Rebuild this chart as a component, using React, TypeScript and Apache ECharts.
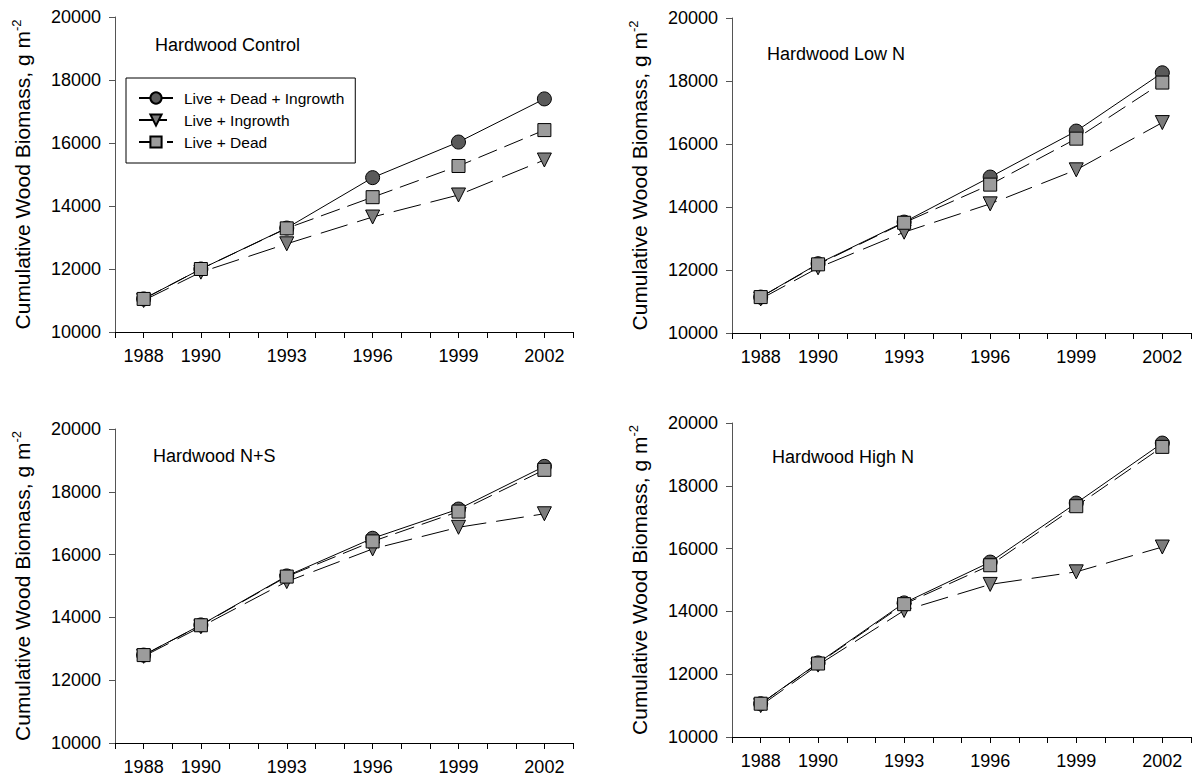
import React, { useEffect, useRef } from "react";
import * as echarts from "echarts";

const years = [1988, 1990, 1993, 1996, 1999, 2002];
const labelYears = [1988, 1990, 1993, 1996, 1999, 2002];
const seriesNames = ["Live + Dead + Ingrowth", "Live + Ingrowth", "Live + Dead"];
const panelTitles = ["Hardwood Control", "Hardwood Low N", "Hardwood N+S", "Hardwood High N"];

const controlLDI = [11050, 12000, 13300, 14900, 16030, 17400];
const controlLI = [11000, 11900, 12800, 13650, 14350, 15460];
const controlLD = [11050, 12000, 13290, 14280, 15270, 16410];

const lowNLDI = [11140, 12200, 13520, 14950, 16410, 18260];
const lowNLI = [11080, 12070, 13200, 14100, 15180, 16680];
const lowNLD = [11140, 12180, 13500, 14710, 16170, 17950];

const nsLDI = [12800, 13760, 15320, 16520, 17450, 18810];
const nsLI = [12760, 13700, 15140, 16180, 16870, 17300];
const nsLD = [12800, 13750, 15300, 16420, 17370, 18700];

const highNLDI = [11060, 12360, 14270, 15570, 17450, 19360];
const highNLI = [11000, 12290, 14030, 14860, 15260, 16050];
const highNLD = [11060, 12340, 14230, 15470, 17350, 19240];

const panelData = [
  [controlLDI, controlLI, controlLD],
  [lowNLDI, lowNLI, lowNLD],
  [nsLDI, nsLI, nsLD],
  [highNLDI, highNLI, highNLD],
];

const FONT = "Liberation Sans, Arial, sans-serif";

export default function App() {
  const ref = useRef<HTMLDivElement>(null);
  useEffect(() => {
    if (!ref.current) return;
    const chart = echarts.init(ref.current, null, { renderer: "svg" });

    const grids = [
      { left: 115, top: 17, width: 458, height: 315 },
      { left: 732, top: 18, width: 459, height: 315 },
      { left: 115, top: 429, width: 458, height: 314 },
      { left: 732, top: 423, width: 459, height: 314 },
    ];
    const titlePos = [
      [155, 47],
      [767, 56],
      [153, 458],
      [772, 459],
    ];

    const styles = [
      { symbol: "circle", size: 14, rotate: 0, color: "#5a5a5a", line: "solid" as any },
      { symbol: "triangle", size: 14, rotate: 180, color: "#7c7c7c", line: [28, 10] as any },
      { symbol: "rect", size: 13, rotate: 0, color: "#9c9c9c", line: [20, 8] as any },
    ];

    const xAxes = grids.map((_, i) => ({
      type: "value",
      gridIndex: i,
      min: 1987,
      max: 2003,
      interval: 1,
      splitLine: { show: false },
      axisLine: { onZero: false, lineStyle: { color: "#000", width: 1 } },
      axisTick: { show: true, length: 6, lineStyle: { color: "#000" } },
      axisLabel: {
        margin: 15,
        fontSize: 18,
        fontFamily: FONT,
        color: "#000",
        formatter: (v: number) => (labelYears.includes(v) ? String(v) : ""),
      },
    }));

    const yAxes = grids.map((_, i) => ({
      type: "value",
      gridIndex: i,
      min: 10000,
      max: 20000,
      interval: 2000,
      splitLine: { show: false },
      axisLine: { show: true, lineStyle: { color: "#555", width: 1 } },
      axisTick: { show: true, length: 6, lineStyle: { color: "#555" } },
      axisLabel: {
        margin: 14,
        fontSize: 18,
        fontFamily: FONT,
        color: "#000",
        formatter: (v: number) => String(v),
      },
      name: "{a|Cumulative Wood Biomass, g m}{s|-2}",
      nameLocation: "middle",
      nameRotate: 90,
      nameGap: 81,
      nameTextStyle: {
        fontFamily: FONT,
        rich: {
          a: { fontSize: 21, fontFamily: FONT, color: "#000", lineHeight: 24, verticalAlign: "middle" },
          s: { fontSize: 13, fontFamily: FONT, color: "#000", lineHeight: 13, verticalAlign: "top" },
        },
      },
    }));

    const series: any[] = [];
    panelData.forEach((arrs, p) => {
      arrs.forEach((vals, k) => {
        const st = styles[k];
        series.push({
          name: seriesNames[k],
          type: "line",
          xAxisIndex: p,
          yAxisIndex: p,
          data: years.map((y, j) => [y, vals[j]]),
          symbol: st.symbol,
          symbolSize: st.size,
          symbolRotate: st.rotate,
          showSymbol: true,
          lineStyle: { color: "#000", width: 1, type: st.line },
          itemStyle: { color: st.color, borderColor: "#000", borderWidth: 1 },
          emphasis: { disabled: true },
          z: 2 + k,
        });
      });
    });

    chart.setOption({
      animation: false,
      grid: grids,
      xAxis: xAxes,
      yAxis: yAxes,
      legend: {
        data: seriesNames,
        orient: "vertical",
        left: 126,
        top: 78,
        padding: [12, 11, 13, 12],
        itemWidth: 34,
        itemHeight: 14,
        itemGap: 6,
        borderColor: "#000",
        borderWidth: 1,
        selectedMode: false,
        textStyle: { fontSize: 15.5, fontFamily: FONT, color: "#000", padding: [0, 0, 0, 6] },
      },
      graphic: panelTitles.map((t, i) => ({
        type: "text",
        left: titlePos[i][0],
        top: titlePos[i][1] - 11,
        style: { text: t, fontSize: 18, fontFamily: FONT, fill: "#000" },
      })),
      series,
    });
    return () => chart.dispose();
  }, []);
  return (
    <div
      ref={ref}
      style={{ position: "absolute", left: 0, top: 0, width: 1197, height: 777, background: "#fff" }}
    />
  );
}
